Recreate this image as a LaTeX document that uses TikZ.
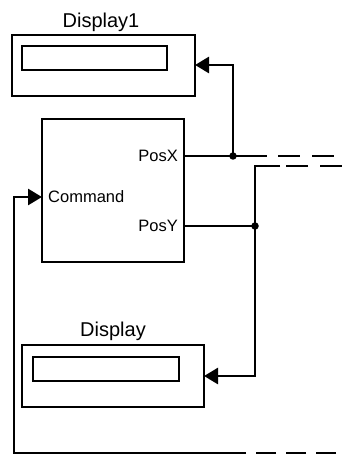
\documentclass[tikz,border=0pt]{standalone}
\usepackage{fontspec}
\setmainfont{Liberation Sans}
\usetikzlibrary{arrows.meta}
\begin{document}
\begin{tikzpicture}[x=1pt,y=-1pt,
  box/.style={draw,line width=2pt,inner sep=0pt,minimum width=#1},
  wire/.style={line width=2.6pt},
  dwire/.style={line width=2.6pt,dash pattern=on 22pt off 12pt},
  arr/.style={-{Triangle[length=14pt,width=16pt]}},
  lbl/.style={font=\fontsize{20}{20}\selectfont,inner sep=0pt},
  port/.style={font=\fontsize{16.5}{16.5}\selectfont,inner sep=0pt},
  dot/.style={circle,fill,inner sep=0pt,minimum size=7.5pt}]
\useasboundingbox (0,0) rectangle (342,457);
% Display1
\node[box=183pt,minimum height=61pt] (d1) at (103.5,65.5) {};
\node[box=145pt,minimum height=24pt] (d1i) at (94.5,58) {};
\node[lbl] (d1l) at (101,22) {Display1};
% Command block
\node[box=142pt,minimum height=143pt] (cmd) at (113,190.5) {};
\node[port,anchor=east] (px) at (178,156) {PosX};
\node[port,anchor=east] (py) at (178,226) {PosY};
\node[port,anchor=west] (cm) at (48,197) {Command};
% Display
\node[box=182pt,minimum height=62pt] (d2) at (113,376) {};
\node[box=146pt,minimum height=24pt] (d2i) at (106,369) {};
\node[lbl] (d2l) at (113,331) {Display};
% coordinates
\coordinate (pxo) at (184,156);
\coordinate (pyo) at (184,226);
\coordinate (cin) at (42,197);
\coordinate (d1in) at (195,65);
\coordinate (d2in) at (204,376);
\coordinate (jx) at (233,156);
\coordinate (jy) at (255,226);
\coordinate (xe) at (267,156);
\coordinate (xd) at (342,156);
\coordinate (y2s) at (280,166);
\coordinate (y2d) at (342,166);
\coordinate (y2c) at (255,166);
\coordinate (bs) at (233,453);
\coordinate (bd) at (342,453);
\coordinate (bc) at (14,453);
% wires
\draw[wire] (pxo) -- (xe);
\draw[dwire,dash phase=-11pt] (xe) -- (xd);
\draw[wire,arr] (jx) |- (d1in);
\node[dot] (dx) at (jx) {};
\draw[wire] (pyo) -- (jy);
\node[dot] (dy) at (jy) {};
\draw[dwire,dash phase=0pt] (y2d) -- (y2s);
\draw[wire,arr] (y2s) -- (y2c) |- (d2in);
\draw[dwire,dash phase=-6pt,dash pattern=on 20pt off 10pt] (bd) -- (bs);
\draw[wire,arr] (bs) -- (bc) |- (cin);
\end{tikzpicture}
\end{document}
